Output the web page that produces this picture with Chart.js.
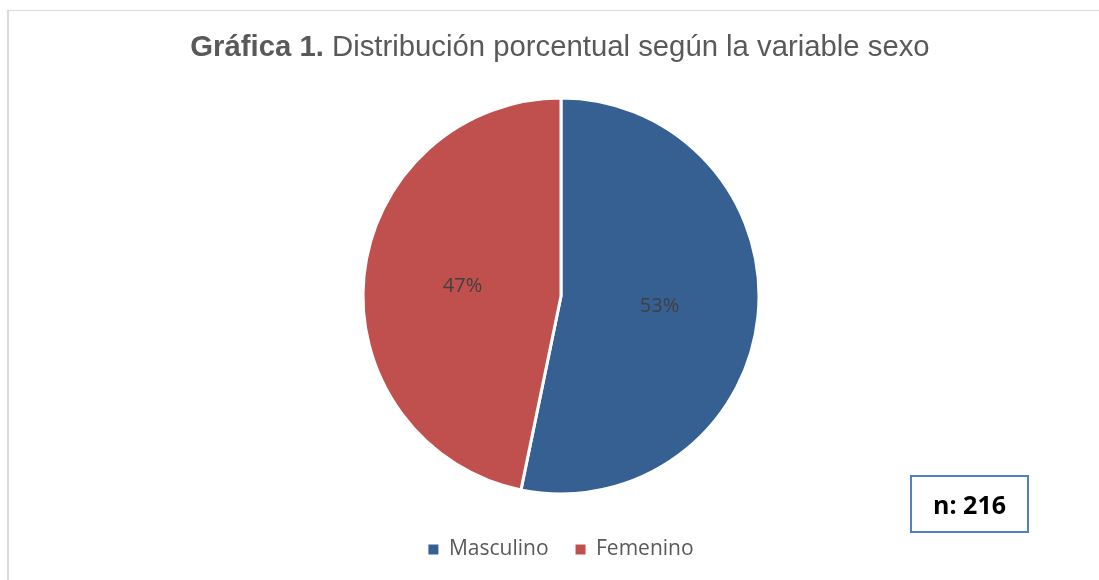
<!DOCTYPE html>
<html>
<head>
<meta charset="utf-8">
<script src="https://cdn.jsdelivr.net/npm/chart.js@4"></script>
<style>
  body { margin: 0; background: #fff; }
  #wrap { position: relative; width: 1099px; height: 580px; overflow: hidden; }
  #frame { position: absolute; left: 7px; top: 10px; width: 1200px; height: 700px;
           border-left: 2px solid #d9d9d9; border-top: 1px solid #d9d9d9; }
  #title { position: absolute; left: 0; width: 1120px; top: 31px; text-align: center;
           font-family: "Liberation Sans", Arial, sans-serif; font-size: 29.3px; line-height: 29px;
           color: #595959; white-space: nowrap; }
  #title b { font-weight: bold; }
  #nbox { position: absolute; left: 910px; top: 475px; width: 115px; height: 54px;
          border: 2px solid #4f81bd; font-family: "Open Sans", sans-serif; font-weight: bold;
          font-size: 25px; color: #000; display: flex; align-items: center; justify-content: center; }
  canvas { position: absolute; left: 0; top: 0; }
</style>
</head>
<body>
<div id="wrap">
  <div id="frame"></div>
  <canvas id="pieChart" width="1099" height="580"></canvas>
  <div id="title"><b>Gráfica 1.</b> Distribución porcentual según la variable sexo</div>
  <div id="nbox">n: 216</div>
</div>
<script>
const labels = ['Masculino', 'Femenino'];
const values = [115, 101];
const colors = ['#366092', '#C0504D'];

// percentage labels inside the slices
const pctLabels = {
    id: 'pctLabels',
    afterDatasetsDraw(chart) {
        const ctx = chart.ctx;
        const meta = chart.getDatasetMeta(0);
        const total = values.reduce((a, b) => a + b, 0);
        ctx.save();
        ctx.font = '20px "Open Sans", sans-serif';
        ctx.fillStyle = '#404040';
        ctx.textAlign = 'center';
        ctx.textBaseline = 'middle';
        meta.data.forEach((arc, i) => {
            const p = arc.tooltipPosition();
            ctx.fillText(Math.round(values[i] / total * 100) + '%', p.x, p.y);
        });
        ctx.restore();
    }
};

const ctx = document.getElementById('pieChart').getContext('2d');
new Chart(ctx, {
    type: 'pie',
    data: {
        labels: labels,
        datasets: [{
            data: values,
            backgroundColor: colors,
            borderColor: '#ffffff',
            borderWidth: 3
        }]
    },
    options: {
        responsive: false,
        animation: false,
        radius: 198,
        layout: { padding: { top: 80, left: 23, right: 0, bottom: 10 } },
        plugins: {
            legend: {
                position: 'bottom',
                labels: {
                    boxWidth: 10,
                    boxHeight: 10,
                    padding: 27,
                    color: '#595959',
                    font: { family: '"Open Sans", sans-serif', size: 21 },
                    generateLabels(chart) {
                        const items = Chart.overrides.pie.plugins.legend.labels.generateLabels(chart);
                        items.forEach(it => { it.strokeStyle = it.fillStyle; it.lineWidth = 0; });
                        return items;
                    }
                }
            },
            tooltip: { enabled: false },
            title: { display: false }
        }
    },
    plugins: [pctLabels]
});
</script>
</body>
</html>
